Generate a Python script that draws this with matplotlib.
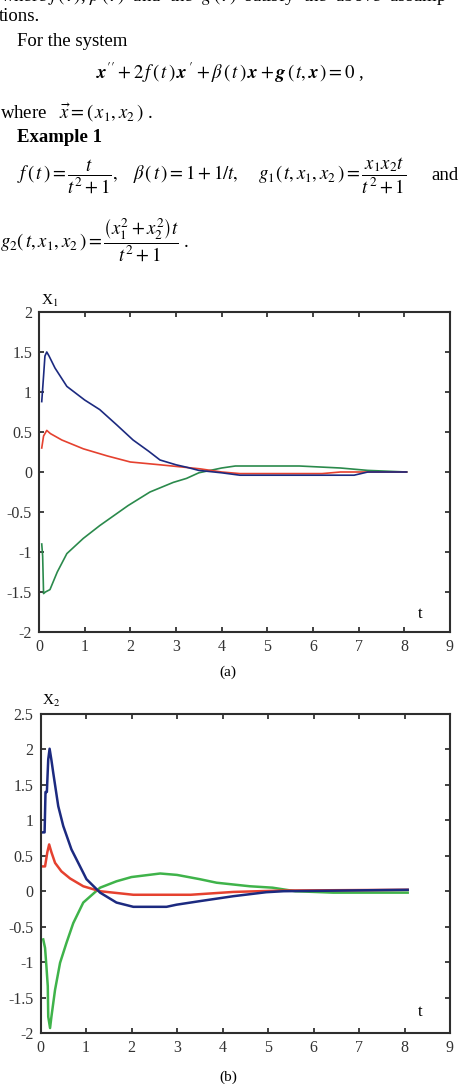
import matplotlib
matplotlib.use("Agg")
import matplotlib.pyplot as plt

plt.rcParams['font.family'] = ['Liberation Serif', 'DejaVu Serif']
plt.rcParams['mathtext.fontset'] = 'stix'

W, H = 458, 1084

# ---- data ----
# (a) x1 components
a_blue_t = [0.06, 0.1, 0.13, 0.17, 0.22, 0.35, 0.61, 1.0, 1.33, 1.7, 2.06, 2.4, 2.65, 3.0, 3.23, 3.5, 4.0, 4.4, 6.9, 7.2, 8.05]
a_blue_v = [0.88, 1.2, 1.45, 1.5, 1.45, 1.3, 1.07, 0.9, 0.78, 0.59, 0.40, 0.26, 0.15, 0.09, 0.06, 0.02, -0.01, -0.04, -0.04, 0.0, 0.0]
a_red_t = [0.06, 0.1, 0.17, 0.25, 0.5, 0.97, 1.5, 2.0, 2.65, 3.0, 3.52, 4.0, 4.4, 6.2, 6.6, 8.05]
a_red_v = [0.3, 0.45, 0.52, 0.48, 0.4, 0.29, 0.2, 0.125, 0.09, 0.07, 0.04, 0.0, -0.02, -0.02, 0.0, 0.0]
a_green_t = [0.06, 0.08, 0.1, 0.14, 0.24, 0.4, 0.61, 0.97, 1.33, 1.95, 2.43, 2.94, 3.23, 3.5, 4.0, 4.3, 5.7, 6.6, 7.2, 8.05]
a_green_v = [-0.9, -1.05, -1.52, -1.5, -1.47, -1.25, -1.02, -0.83, -0.67, -0.42, -0.25, -0.13, -0.08, -0.01, 0.05, 0.075, 0.075, 0.05, 0.02, 0.0]

# (b) x2 components
b_blue_t = [0.06, 0.09, 0.11, 0.14, 0.17, 0.2, 0.24, 0.28, 0.39, 0.5, 0.68, 0.94, 1.01, 1.31, 1.67, 2.04, 2.77, 2.99, 3.5, 4.24, 4.96, 5.34, 8.07]
b_blue_v = [0.83, 0.83, 1.4, 1.4, 1.86, 2.01, 1.85, 1.67, 1.2, 0.92, 0.59, 0.26, 0.17, -0.02, -0.16, -0.22, -0.22, -0.19, -0.14, -0.07, -0.014, 0.0, 0.02]
b_red_t = [0.06, 0.1, 0.15, 0.19, 0.24, 0.32, 0.46, 0.65, 0.94, 1.31, 2.04, 3.3, 4.24, 5.34, 8.07]
b_red_v = [0.35, 0.35, 0.55, 0.66, 0.55, 0.4, 0.28, 0.18, 0.07, 0.0, -0.05, -0.05, -0.01, 0.01, 0.02]
b_green_t = [0.06, 0.1, 0.13, 0.16, 0.17, 0.21, 0.24, 0.32, 0.43, 0.57, 0.72, 0.94, 1.31, 1.67, 2.0, 2.63, 3.0, 3.5, 3.87, 4.6, 5.1, 5.6, 6.43, 8.07]
b_green_v = [-0.68, -0.8, -1.06, -1.34, -1.77, -1.93, -1.77, -1.39, -1.01, -0.73, -0.45, -0.16, 0.05, 0.14, 0.2, 0.25, 0.23, 0.17, 0.12, 0.07, 0.05, 0.0, -0.02, -0.02]

x_ticks = list(range(0, 10))
a_yticks = [-2, -1.5, -1, -0.5, 0, 0.5, 1, 1.5, 2]
b_yticks = [-2, -1.5, -1, -0.5, 0, 0.5, 1, 1.5, 2, 2.5]

BLUE = '#1c2a80'
RED = '#e5412f'
GREEN_A = '#2b8a4c'
GREEN_B = '#3fb34a'


def fx(px):
    return px / W


def fy(py):
    return 1 - py / H


def style_axes(ax, yticks, ylim):
    ax.set_xlim(0, 9)
    ax.set_ylim(*ylim)
    ax.set_xticks(x_ticks)
    ax.set_yticks(yticks)
    ax.set_xticklabels([str(t) for t in x_ticks])
    ax.set_yticklabels(['%g' % v for v in yticks])
    ax.tick_params(direction='in', length=3.5, width=1.3, top=True, right=True,
                   labelsize=11.5, colors='#333333', pad=5)
    for s in ax.spines.values():
        s.set_linewidth(1.5)
        s.set_color('#2e2e2e')
    ax.set_facecolor('none')


fig = plt.figure(figsize=(W / 100, H / 100), dpi=100)

# ---- text block ----
fs = 13.5
fig.text(fx(0), fy(1), r"where $f\,(\,t\,)$, $\beta\,(\,t\,)$  and  the  $g\,(\,t\,)$  satisfy  the  above  assump",
         fontsize=fs, va='baseline')
fig.text(fx(-1), fy(21), "tions.", fontsize=fs, va='baseline')
fig.text(fx(17), fy(46), "For the system", fontsize=fs, va='baseline')
fig.text(fx(230), fy(73),
         r"$\mathbfit{x}'' + 2\,f\,(\,t\,)\,\mathbfit{x}\,' + \beta\,(\,t\,)\,\mathbfit{x} + \mathbfit{g}\,(\,t, \mathbfit{x}\,) = 0$ ,",
         fontsize=fs, ha='center', va='center')
fig.text(fx(0), fy(119), r"where   $\vec{x} = (\,x_1, x_2\,)$ .", fontsize=fs, va='baseline')
fig.text(fx(17), fy(142), "Example 1", fontsize=fs, fontweight='bold', va='baseline')
fig.text(fx(17), fy(176),
         r"$f\,(\,t\,) = \dfrac{t}{t^2+1},\ \ \ \beta\,(\,t\,) = 1 + 1/t,\ \ \ \ g_1(\,t, x_1, x_2\,) = \dfrac{x_1 x_2 t}{t^2+1}$",
         fontsize=fs, va='center')
fig.text(fx(458), fy(176), "and", fontsize=fs, ha='right', va='center')
fig.text(fx(0), fy(240),
         r"$g_2(\,t, x_1, x_2\,) = \dfrac{\left(x_1^2 + x_2^2\right)t}{t^2+1}$ .",
         fontsize=fs, va='center')

# ---- plot (a) ----
ax1 = fig.add_axes([fx(39), fy(632), fx(450) - fx(39), fy(312) - fy(632)])
ax1.plot(a_green_t, a_green_v, color=GREEN_A, lw=1.2)
ax1.plot(a_red_t, a_red_v, color=RED, lw=1.2)
ax1.plot(a_blue_t, a_blue_v, color=BLUE, lw=1.2)
style_axes(ax1, a_yticks, (-2, 2))
ax1.text(0.006, 1.035, r"X$_1$", transform=ax1.transAxes, fontsize=11, ha='left', va='center')
ax1.text(8.35, -1.77, "t", fontsize=12, ha='center', va='center')
fig.text(fx(228), fy(672), "(a)", fontsize=11, ha='center', va='center')

# ---- plot (b) ----
ax2 = fig.add_axes([fx(40.5), fy(1033), fx(450) - fx(40.5), fy(714) - fy(1033)])
ax2.plot(b_green_t, b_green_v, color=GREEN_B, lw=1.8)
ax2.plot(b_red_t, b_red_v, color=RED, lw=1.8)
ax2.plot(b_blue_t, b_blue_v, color=BLUE, lw=1.8)
style_axes(ax2, b_yticks, (-2, 2.5))
ax2.text(0.003, 1.04, r"X$_2$", transform=ax2.transAxes, fontsize=11, ha='left', va='center')
ax2.text(8.35, -1.7, "t", fontsize=12, ha='center', va='center')
fig.text(fx(228), fy(1077), "(b)", fontsize=11, ha='center', va='center')

fig.savefig("out.png", dpi=100, facecolor='white')
